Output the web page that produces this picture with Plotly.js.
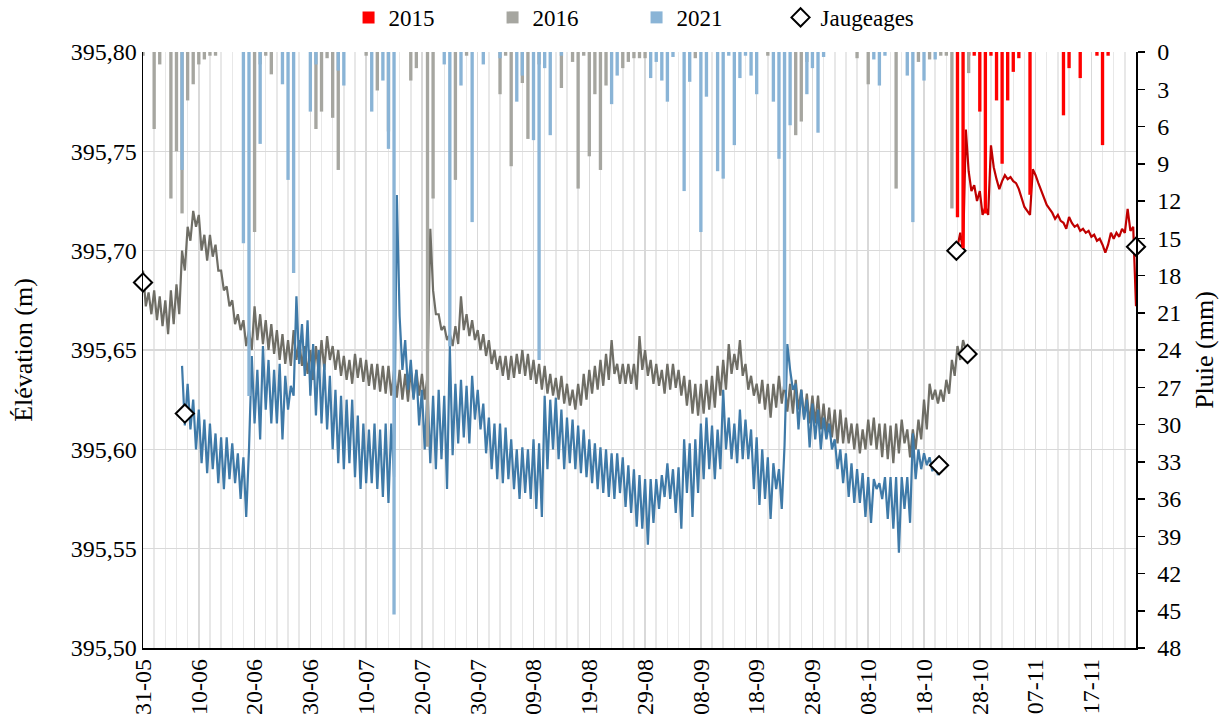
<!DOCTYPE html>
<html><head><meta charset="utf-8">
<script src="https://cdn.plot.ly/plotly-3.0.1.min.js"></script>
<style>html,body{margin:0;padding:0;background:#fff}#chart{width:1229px;height:721px}</style>
</head><body><div id="chart"></div>
<script>
// x = days after 31-05
const tickDays = [0,10,20,30,40,50,60,70,80,90,100,110,120,130,140,150,160,170];
const tickLabels = ["31-05","10-06","20-06","30-06","10-07","20-07","30-07","09-08","19-08","29-08","08-09","18-09","28-09","08-10","18-10","28-10","07-11","17-11"];

// Rain (mm)
const rain2015Days = [146,147,148,149,150,151,152,153,154,155,156,157,159,165,166,168,171,172,173];
const rain2015 = [13.3,15.8,0.3,0.3,4.8,13.0,0.3,3.9,9.0,3.9,1.6,0.5,11.5,5.1,1.3,2.1,0.3,7.5,0.3];

const rain2016Days = [0,2,3,5,6,7,8,9,10,11,12,13,20,21,22,23,31,32,33,34,35,40,42,44,48,49,51,52,56,58,64,65,66,68,69,71,75,77,78,79,80,81,82,83,86,87,88,89,90,99,112,117,118,119,128,130,135,139,141,143,144,145,148];
const rain2016 = [0.3,6.2,1.0,11.8,8.0,13.0,3.9,2.6,1.0,0.6,0.3,0.3,14.5,1.0,0.3,1.8,6.2,4.8,0.5,5.3,9.5,0.3,3.1,6.4,2.3,1.3,31.8,11.8,10.3,0.3,3.4,0.3,9.2,2.5,7.0,1.0,2.9,0.8,11.0,0.3,8.4,3.4,9.5,2.7,1.3,0.8,0.5,0.5,0.5,0.5,0.3,6.7,5.6,0.8,0.5,2.6,11.0,0.8,0.6,0.3,0.3,12.6,1.7];

const rain2021Days = [7,18,19,21,25,26,27,30,31,35,36,41,43,44,45,54,55,57,59,61,64,67,68,70,71,72,73,75,84,85,91,92,93,94,95,97,98,100,101,103,104,105,106,107,108,109,110,113,114,115,116,119,120,121,122,131,132,133,137,138,140,142];
const rain2021 = [9.5,15.4,27.7,7.4,2.6,10.3,17.8,4.8,1.0,1.5,2.7,4.8,2.3,7.8,45.3,1.0,23.7,2.7,13.7,1.0,0.5,4.0,1.9,7.1,24.8,1.3,6.7,0.3,4.2,1.9,2.1,0.8,2.3,4.0,0.4,11.2,2.4,14.5,3.6,9.6,10.2,0.3,7.5,2.1,0.3,1.9,3.4,4.0,8.6,27.2,5.9,3.4,1.3,6.5,0.4,0.6,2.7,0.3,1.9,13.7,2.3,0.6];

// Water level (m), one reading every half day from the start day
const elev2016Start = 0;
const elev2016 = [
395.690,395.672,395.679,395.668,395.680,395.665,395.677,395.662,395.675,395.658,
395.680,395.663,395.683,395.668,395.700,395.690,395.712,395.705,395.720,395.712,
395.718,395.700,395.708,395.695,395.708,395.697,395.703,395.690,395.690,395.680,
395.682,395.672,395.675,395.663,395.668,395.660,395.665,395.652,395.660,395.650,
395.672,395.655,395.668,395.653,395.665,395.650,395.663,395.648,395.660,395.645,
395.658,395.643,395.655,395.642,395.660,395.645,395.655,395.642,395.652,395.638,
395.650,395.635,395.652,395.638,395.655,395.640,395.657,395.645,395.652,395.640,
395.650,395.637,395.647,395.635,395.645,395.633,395.648,395.636,395.646,395.634,
395.645,395.632,395.643,395.630,395.643,395.629,395.642,395.628,395.642,395.627,
395.640,395.626,395.640,395.625,395.638,395.624,395.640,395.626,395.640,395.627,
395.638,395.625,395.637,395.711,395.680,395.668,395.668,395.660,395.662,395.655,
395.658,395.652,395.662,395.653,395.677,395.660,395.668,395.657,395.665,395.655,
395.660,395.650,395.658,395.647,395.655,395.643,395.650,395.640,395.647,395.637,
395.647,395.635,395.647,395.636,395.648,395.638,395.650,395.637,395.648,395.635,
395.645,395.633,395.643,395.630,395.642,395.628,395.638,395.627,395.636,395.625,
395.637,395.623,395.633,395.622,395.630,395.620,395.633,395.622,395.638,395.625,
395.640,395.628,395.642,395.630,395.645,395.632,395.648,395.635,395.655,395.638,
395.643,395.633,395.643,395.633,395.643,395.633,395.643,395.630,395.657,395.640,
395.650,395.637,395.645,395.633,395.643,395.632,395.640,395.628,395.643,395.630,
395.643,395.631,395.640,395.627,395.637,395.622,395.635,395.618,395.633,395.617,
395.633,395.618,395.635,395.620,395.637,395.621,395.642,395.627,395.645,395.630,
395.653,395.638,395.648,395.640,395.655,395.637,395.643,395.630,395.637,395.627,
395.633,395.623,395.635,395.620,395.633,395.616,395.633,395.621,395.637,395.623,
395.634,395.619,395.633,395.618,395.635,395.620,395.630,395.616,395.628,395.613,
395.627,395.613,395.627,395.610,395.623,395.608,395.621,395.606,395.620,395.603,
395.620,395.603,395.616,395.603,395.613,395.600,395.613,395.598,395.610,395.600,
395.615,395.602,395.616,395.600,395.613,395.596,395.613,395.595,395.612,395.593,
395.613,395.598,395.615,395.603,395.610,395.596,395.610,395.600,395.615,395.605,
395.625,395.610,395.633,395.625,395.630,395.623,395.630,395.624,395.635,395.628,
395.645,395.637,395.652,395.645,395.655,395.650];

const elev2021Start = 7;
const elev2021 = [
395.642,395.612,395.633,395.610,395.625,395.600,395.620,395.593,395.615,395.588,
395.613,395.590,395.608,395.583,395.606,395.580,395.606,395.585,395.603,395.583,
395.598,395.575,395.596,395.566,395.600,395.647,395.613,395.640,395.605,395.652,
395.620,395.645,395.613,395.640,395.613,395.643,395.605,395.637,395.620,395.632,
395.627,395.677,395.643,395.663,395.637,395.665,395.627,395.653,395.617,395.650,
395.613,395.643,395.610,395.637,395.600,395.630,395.593,395.627,395.590,395.625,
395.593,395.625,395.586,395.617,395.580,395.613,395.583,395.610,395.583,395.613,
395.580,395.610,395.576,395.613,395.573,395.613,395.586,395.728,395.667,395.640,
395.655,395.630,395.645,395.625,395.640,395.612,395.630,395.600,395.630,395.593,
395.627,395.590,395.630,395.595,395.627,395.580,395.652,395.597,395.633,395.603,
395.635,395.606,395.632,395.603,395.637,395.615,395.630,395.610,395.623,395.598,
395.616,395.590,395.613,395.585,395.613,395.583,395.611,395.585,395.605,395.580,
395.600,395.575,395.601,395.578,395.600,395.575,395.605,395.570,395.603,395.566,
395.627,395.590,395.625,395.600,395.626,395.595,395.620,395.590,395.616,395.593,
395.615,395.590,395.612,395.588,395.610,395.586,395.605,395.583,395.603,395.580,
395.601,395.578,395.600,395.576,395.598,395.575,395.598,395.578,395.596,395.571,
395.592,395.568,395.590,395.561,395.587,395.560,395.585,395.552,395.585,395.563,
395.585,395.570,395.587,395.576,395.593,395.575,395.590,395.568,395.591,395.560,
395.605,395.578,395.603,395.566,395.605,395.578,395.613,395.585,395.616,395.590,
395.612,395.585,395.610,395.590,395.630,395.600,395.616,395.595,395.613,395.593,
395.620,395.595,395.615,395.595,395.610,395.580,395.606,395.572,395.600,395.575,
395.596,395.565,395.593,395.580,395.590,395.570,395.602,395.653,395.640,395.630,
395.633,395.610,395.630,395.615,395.625,395.601,395.623,395.605,395.620,395.600,
395.616,395.605,395.613,395.600,395.605,395.590,395.600,395.583,395.598,395.576,
395.593,395.573,395.590,395.573,395.588,395.566,395.586,395.563,395.585,395.580,
395.583,395.575,395.586,395.565,395.586,395.560,395.586,395.548,395.586,395.570,
395.586,395.563,395.608,395.585,395.600,395.590,395.598,395.592,395.596,395.589,
395.593,395.587];

const elev2015Start = 146;
const elev2015 = [
395.702,395.709,395.700,395.761,395.740,395.730,395.733,395.725,395.730,395.718,
395.722,395.718,395.753,395.742,395.736,395.731,395.735,395.738,395.736,395.737,
395.735,395.734,395.731,395.727,395.722,395.720,395.718,395.741,395.738,395.734,
395.730,395.727,395.723,395.721,395.719,395.716,395.718,395.715,395.714,395.711,
395.717,395.714,395.712,395.713,395.710,395.711,395.709,395.710,395.707,395.708,
395.705,395.706,395.703,395.699,395.703,395.709,395.706,395.709,395.707,395.711,
395.709,395.721,395.710,395.712,395.672];

// Gaugings
const jaugeDays = [0,7.5,142.7,145.8,147.8,178];
const jaugeValues = [395.684,395.618,395.592,395.700,395.648,395.702];

function halfDays(start, values){ return values.map((v,i)=>start + i*0.5); }
const minorGrid = []; for (let d=0; d<=178; d+=2) minorGrid.push(d);

const FONT = '"Liberation Serif","Times New Roman",serif';
const barCommon = {type:'bar', yaxis:'y2', width:0.6, hoverinfo:'skip'};
const traces = [
  Object.assign({}, barCommon, {name:'2015', x:rain2015Days, y:rain2015, marker:{color:'#ff0000', line:{width:0}}}),
  Object.assign({}, barCommon, {name:'2016', x:rain2016Days, y:rain2016, marker:{color:'#a6a6a0', line:{width:0}}}),
  Object.assign({}, barCommon, {name:'2021', x:rain2021Days, y:rain2021, marker:{color:'#8ab4d6', line:{width:0}}}),
  {type:'scatter', mode:'lines', x:halfDays(elev2016Start, elev2016), y:elev2016, line:{color:'#6f6e66', width:2.2}, showlegend:false, name:'Niveau 2016'},
  {type:'scatter', mode:'lines', x:halfDays(elev2021Start, elev2021), y:elev2021, line:{color:'#3f7aa8', width:2.2}, showlegend:false, name:'Niveau 2021'},
  {type:'scatter', mode:'lines', x:halfDays(elev2015Start, elev2015), y:elev2015, line:{color:'#c00000', width:2.2}, showlegend:false, name:'Niveau 2015'},
  {type:'scatter', mode:'markers', name:'Jaugeages', x:jaugeDays, y:jaugeValues, cliponaxis:false,
   marker:{symbol:'diamond', size:14, color:'#ffffff', line:{color:'#000000', width:2}}}
];

const layout = {
  width:1229, height:721,
  margin:{l:143, r:93, t:52, b:73, autoexpand:false},
  paper_bgcolor:'#ffffff', plot_bgcolor:'#ffffff',
  font:{family:FONT, size:24, color:'#000'},
  separators:', ',
  barmode:'overlay',
  showlegend:true,
  legend:{orientation:'h', x:0.207, xanchor:'left', y:1.058, yanchor:'middle',
          font:{family:FONT, size:23, color:'#000'}, entrywidth:99, entrywidthmode:'pixels', traceorder:'normal', itemwidth:30},
  xaxis:{range:[0,178], tickmode:'array', tickvals:tickDays, ticktext:tickLabels, tickangle:-90,
         showline:true, linecolor:'#000', linewidth:1.5, ticks:'', zeroline:false,
         showgrid:true, gridcolor:'#d9d9d9', gridwidth:1.5,
         minor:{tickmode:'array', tickvals:minorGrid, showgrid:true, gridcolor:'#e8e8e8', gridwidth:1.5, ticks:''},
         tickfont:{family:FONT, size:24}},
  yaxis:{range:[395.5,395.8], tick0:395.5, dtick:0.05, tickformat:'.2f',
         showline:true, linecolor:'#000', linewidth:1.5, ticks:'', zeroline:false,
         showgrid:true, gridcolor:'#d9d9d9', gridwidth:1.5,
         tickfont:{family:FONT, size:24},
         title:{text:'Élévation (m)', font:{family:FONT, size:26}, standoff:30}},
  yaxis2:{range:[48,0], overlaying:'y', side:'right', tick0:0, dtick:3,
          showline:true, linecolor:'#000', linewidth:1.5, ticks:'outside', ticklen:7, tickwidth:1.5, tickcolor:'#000',
          ticklabelstandoff:8,
          showgrid:false, zeroline:false, tickfont:{family:FONT, size:24},
          title:{text:'Pluie (mm)', font:{family:FONT, size:26}, standoff:14}}
};
Plotly.newPlot('chart', traces, layout, {displayModeBar:false, staticPlot:true});
</script>
</body></html>
